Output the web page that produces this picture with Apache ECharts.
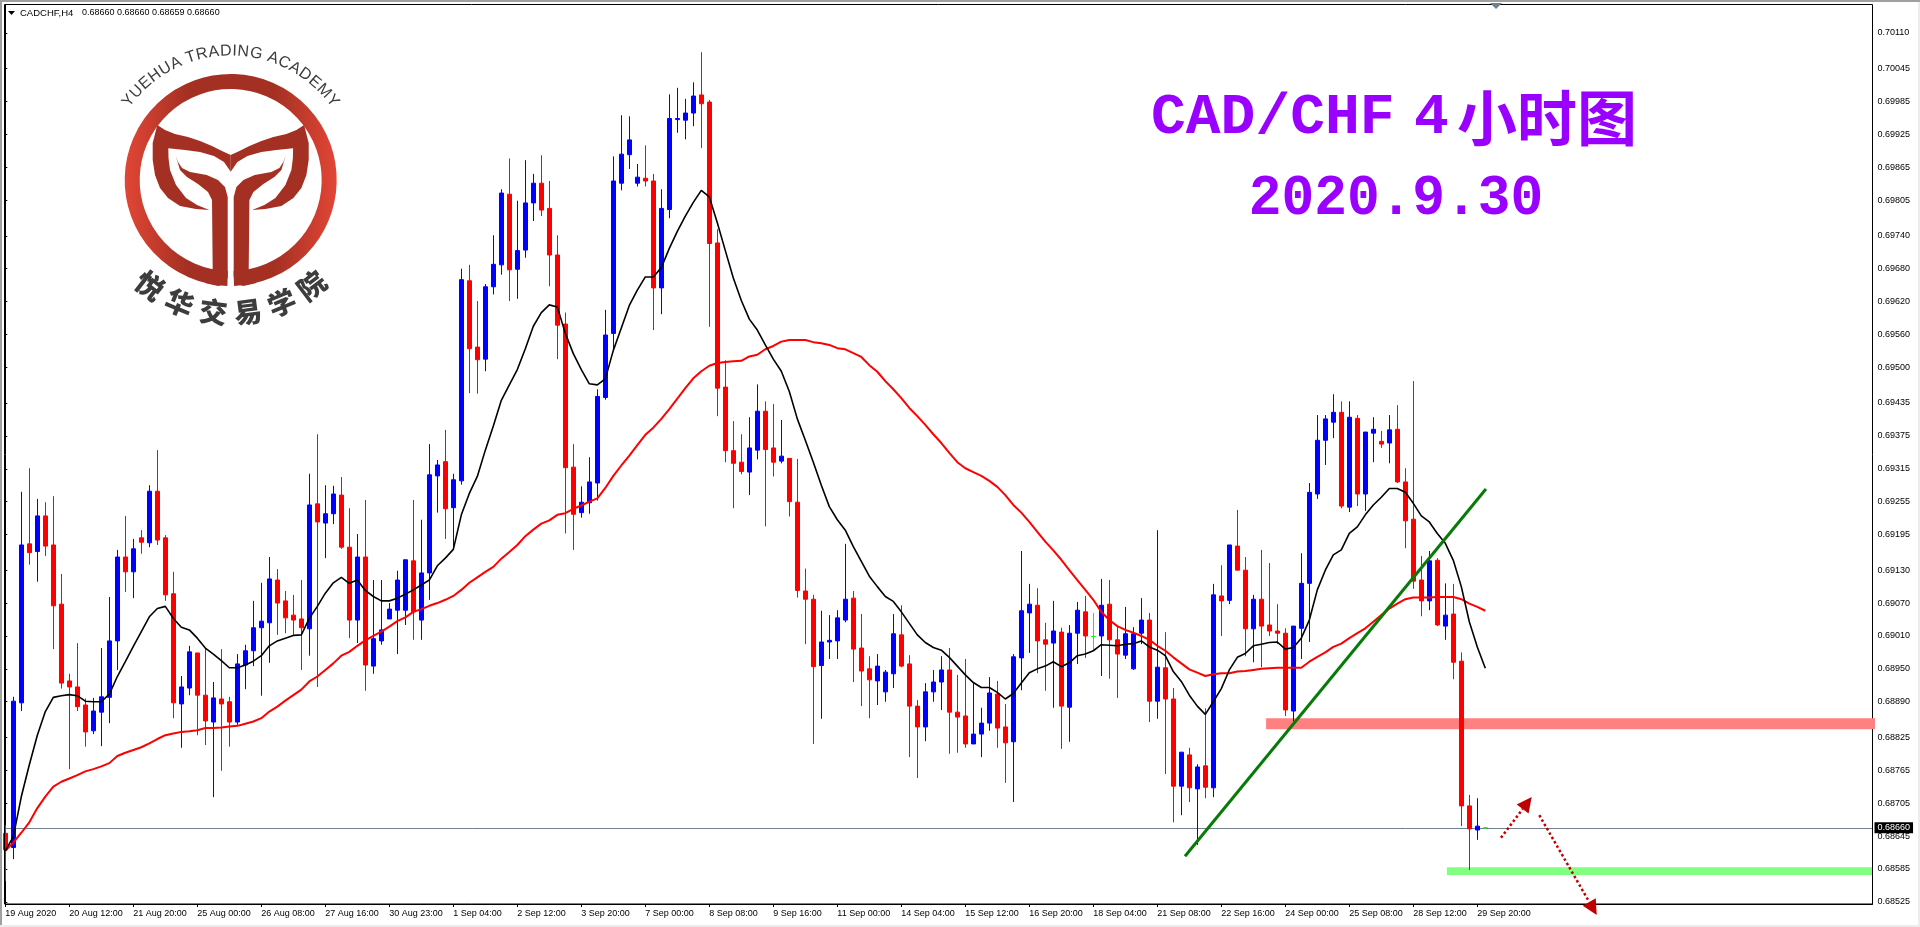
<!DOCTYPE html>
<html><head><meta charset="utf-8">
<style>html,body{margin:0;padding:0;background:#fff;overflow:hidden}#c{width:1920px;height:927px}</style>
<script src="https://cdn.jsdelivr.net/npm/echarts@6/dist/echarts.min.js"></script>
</head><body><div id="c"></div>
<script>
const tickLabels=['19 Aug 2020','20 Aug 12:00','21 Aug 20:00','25 Aug 00:00','26 Aug 08:00','27 Aug 16:00','30 Aug 23:00','1 Sep 04:00','2 Sep 12:00','3 Sep 20:00','7 Sep 00:00','8 Sep 08:00','9 Sep 16:00','11 Sep 00:00','14 Sep 04:00','15 Sep 12:00','16 Sep 20:00','18 Sep 04:00','21 Sep 08:00','22 Sep 16:00','24 Sep 00:00','25 Sep 08:00','28 Sep 12:00','29 Sep 20:00'];
const priceTicks=[0.70110,0.70045,0.69985,0.69925,0.69865,0.69805,0.69740,0.69680,0.69620,0.69560,0.69500,0.69435,0.69375,0.69315,0.69255,0.69195,0.69130,0.69070,0.69010,0.68950,0.68890,0.68825,0.68765,0.68705,0.68645,0.68585,0.68525];
const opens=[.68650,.68624,.68888,.69178,.69164,.69229,.69176,.69068,.68928,.68917,.68884,.68837,.68871,.68898,.69001,.69154,.69127,.69189,.69180,.69274,.69189,.69087,.68886,.68915,.68979,.68902,.68853,.68895,.68890,.68853,.68957,.68983,.69025,.69034,.69112,.69074,.69048,.69041,.69023,.69251,.69216,.69233,.69267,.69172,.69039,.69154,.68955,.69001,.69041,.69057,.69057,.69147,.69039,.69125,.69302,.69328,.69244,.69293,.69658,.69537,.69515,.69647,.69687,.69816,.69679,.69714,.69800,.69836,.69790,.69705,.69579,.69318,.69235,.69253,.69289,.69445,.69562,.69836,.69888,.69836,.69845,.69840,.69645,.69788,.69952,.69951,.69964,.69997,.69984,.69727,.69464,.69348,.69327,.69309,.69349,.69420,.69353,.69329,.69334,.69254,.69092,.69077,.68956,.68999,.69001,.69039,.69079,.68988,.68950,.68928,.68908,.68941,.69012,.68959,.68882,.68844,.68908,.68926,.68948,.68871,.68864,.68813,.68831,.68851,.68904,.68844,.68817,.68970,.69052,.69066,.69003,.68997,.69017,.68880,.69015,.69054,.69009,.69010,.69068,.69003,.68975,.68950,.69015,.69039,.68891,.68952,.68895,.68736,.68793,.68731,.68773,.68733,.69083,.69075,.69174,.69130,.69023,.69077,.69030,.69019,.69015,.68873,.69024,.69106,.69269,.69367,.69400,.69418,.69245,.69407,.69269,.69380,.69365,.69362,.69387,.69291,.69223,.69112,.69074,.69148,.69028,.69050,.68964,.68700,.68656,.68660];
const closes=[.68620,.68891,.69176,.69162,.69229,.69174,.69065,.68924,.68917,.68881,.68835,.68873,.68899,.69001,.69154,.69127,.69169,.69181,.69274,.69185,.69085,.68888,.68917,.68981,.68902,.68855,.68897,.68886,.68853,.68959,.68983,.69025,.69037,.69114,.69070,.69043,.69039,.69025,.69249,.69218,.69233,.69269,.69172,.69039,.69154,.68957,.69005,.69021,.69059,.69112,.69149,.69054,.69125,.69304,.69322,.69242,.69295,.69660,.69534,.69514,.69647,.69688,.69818,.69678,.69713,.69800,.69836,.69787,.69705,.69577,.69317,.69232,.69254,.69291,.69447,.69559,.69840,.69889,.69915,.69847,.69840,.69645,.69790,.69954,.69954,.69964,.69995,.69981,.69726,.69462,.69348,.69325,.69310,.69353,.69420,.69350,.69327,.69338,.69255,.69093,.69077,.68954,.68999,.69002,.69043,.69077,.68986,.68946,.68930,.68955,.68944,.69014,.68955,.68882,.68844,.68908,.68926,.68948,.68871,.68862,.68813,.68831,.68851,.68906,.68842,.68815,.68972,.69056,.69068,.69001,.68995,.69019,.68882,.69015,.69057,.69010,.69009,.69066,.69003,.68977,.69014,.69014,.69039,.68891,.68953,.68895,.68736,.68798,.68733,.68771,.68734,.69085,.69074,.69176,.69130,.69023,.69077,.69028,.69019,.69015,.68875,.69028,.69106,.69272,.69367,.69406,.69418,.69247,.69409,.69269,.69382,.69387,.69360,.69386,.69291,.69220,.69110,.69074,.69147,.69030,.69048,.68962,.68700,.68658,.68663,.68660];
const lows=[.68563,.68603,.68873,.69140,.69109,.69156,.68986,.68914,.68767,.68873,.68808,.68831,.68809,.68851,.68948,.69090,.69079,.69160,.69172,.69176,.69074,.68860,.68806,.68902,.68829,.68811,.68716,.68764,.68808,.68848,.68913,.68955,.68901,.68961,.69012,.69015,.69012,.68948,.68974,.68917,.69152,.69214,.69169,.69006,.68997,.68910,.68941,.68994,.69041,.68977,.69030,.69003,.69003,.69076,.69235,.69187,.69169,.69286,.69453,.69452,.69493,.69633,.69669,.69621,.69625,.69700,.69767,.69776,.69648,.69515,.69197,.69167,.69226,.69233,.69257,.69441,.69531,.69823,.69862,.69830,.69830,.69568,.69597,.69772,.69928,.69916,.69940,.69900,.69574,.69411,.69327,.69243,.69305,.69267,.69332,.69210,.69301,.69325,.69228,.69080,.68995,.68813,.68859,.68968,.68968,.69035,.68926,.68882,.68860,.68884,.68890,.68915,.68953,.68789,.68751,.68818,.68890,.68875,.68795,.68797,.68806,.68813,.68789,.68837,.68806,.68742,.68707,.68911,.68979,.68942,.68910,.68879,.68804,.68817,.68959,.68970,.68983,.68937,.68932,.68897,.68968,.68948,.68995,.68853,.68859,.68758,.68670,.68683,.68707,.68629,.68714,.68716,.69010,.69068,.69130,.68973,.68962,.68953,.69010,.68995,.68864,.68854,.68968,.68999,.69260,.69322,.69371,.69243,.69236,.69247,.69238,.69327,.69353,.69325,.69289,.69170,.69096,.69046,.69057,.69028,.69003,.68931,.68663,.68583,.68638,.68659];
const highs=[.68665,.68899,.69273,.69316,.69260,.69254,.69265,.69123,.68941,.68997,.68896,.68897,.68988,.69081,.69167,.69229,.69187,.69203,.69285,.69349,.69194,.69127,.68937,.68992,.68979,.68988,.68926,.68986,.68899,.68977,.68994,.69074,.69107,.69154,.69132,.69092,.69085,.69112,.69306,.69378,.69285,.69284,.69300,.69243,.69196,.69258,.69112,.69112,.69070,.69129,.69149,.69258,.69222,.69360,.69331,.69386,.69306,.69680,.69687,.69621,.69652,.69741,.69825,.69881,.69804,.69878,.69853,.69887,.69840,.69741,.69600,.69360,.69283,.69336,.69460,.69605,.69885,.69960,.69958,.69871,.69905,.69853,.69825,.69998,.70010,.69990,.70020,.70075,.69988,.69752,.69513,.69402,.69378,.69409,.69469,.69438,.69433,.69404,.69334,.69333,.69133,.69085,.69056,.69048,.69057,.69178,.69092,.69050,.68973,.68977,.68948,.69050,.69066,.68975,.68893,.68924,.68948,.68973,.68988,.68939,.68968,.68926,.68879,.68935,.68928,.68886,.68977,.69165,.69105,.69097,.69034,.69074,.69025,.69030,.69072,.69083,.69052,.69114,.69112,.69028,.69063,.69026,.69079,.69052,.69203,.69017,.68915,.68798,.68806,.68776,.68878,.69105,.69139,.69176,.69240,.69154,.69085,.69167,.69143,.69068,.69024,.69028,.69161,.69289,.69413,.69413,.69451,.69438,.69438,.69413,.69382,.69409,.69384,.69413,.69431,.69316,.69475,.69156,.69165,.69152,.69106,.69105,.68980,.68720,.68714,.68660];
const maBlack=[.68618,.68644,.68717,.68775,.68829,.68872,.68898,.68901,.68903,.68901,.68891,.68890,.68890,.68904,.68936,.68963,.68991,.69018,.69045,.69060,.69064,.69042,.69026,.69021,.69006,.68988,.68977,.68965,.68952,.68952,.68957,.68964,.68974,.68992,.69001,.69006,.69011,.69012,.69042,.69064,.69088,.69107,.69117,.69106,.69112,.69093,.69082,.69074,.69074,.69079,.69086,.69094,.69103,.69112,.69138,.69152,.69168,.69231,.69270,.69301,.69349,.69393,.69440,.69468,.69496,.69534,.69575,.69600,.69614,.69610,.69562,.69525,.69496,.69470,.69468,.69479,.69531,.69572,.69613,.69641,.69665,.69665,.69682,.69717,.69748,.69776,.69801,.69823,.69811,.69764,.69713,.69663,.69622,.69588,.69568,.69541,.69515,.69493,.69456,.69406,.69367,.69327,.69285,.69246,.69222,.69203,.69173,.69146,.69119,.69100,.69082,.69073,.69054,.69033,.69012,.68998,.68989,.68984,.68971,.68955,.68939,.68925,.68916,.68916,.68907,.68895,.68905,.68924,.68943,.68950,.68955,.68963,.68954,.68961,.68974,.68977,.68983,.68994,.68993,.68992,.68995,.68996,.69001,.68990,.68984,.68974,.68945,.68927,.68902,.68882,.68867,.68890,.68914,.68948,.68971,.68978,.68992,.68995,.68998,.68999,.68986,.68989,.69006,.69039,.69094,.69130,.69158,.69167,.69197,.69209,.69231,.69249,.69263,.69279,.69279,.69272,.69252,.69229,.69218,.69197,.69179,.69148,.69100,.69036,.68990,.68951];
const maRed=[.68618,.68633,.68651,.68670,.68696,.68717,.68735,.68744,.68750,.68756,.68763,.68767,.68772,.68778,.68791,.68797,.68802,.68807,.68814,.68822,.68829,.68832,.68835,.68836,.68838,.68842,.68842,.68843,.68845,.68846,.68850,.68854,.68860,.68872,.68881,.68892,.68902,.68912,.68927,.68936,.68948,.68960,.68974,.68981,.68992,.69002,.69010,.69018,.69027,.69037,.69044,.69054,.69059,.69065,.69070,.69076,.69083,.69094,.69107,.69117,.69127,.69136,.69151,.69163,.69176,.69192,.69204,.69215,.69221,.69231,.69234,.69242,.69248,.69255,.69261,.69280,.69302,.69321,.69339,.69358,.69377,.69390,.69406,.69424,.69443,.69462,.69480,.69493,.69503,.69508,.69510,.69511,.69512,.69520,.69523,.69533,.69539,.69547,.69550,.69550,.69550,.69546,.69544,.69541,.69535,.69533,.69526,.69519,.69504,.69492,.69475,.69460,.69444,.69426,.69411,.69395,.69378,.69362,.69344,.69327,.69316,.69309,.69302,.69293,.69282,.69267,.69249,.69235,.69218,.69200,.69182,.69166,.69149,.69130,.69112,.69094,.69076,.69054,.69039,.69028,.69021,.69016,.69010,.69003,.68992,.68983,.68971,.68960,.68949,.68943,.68937,.68940,.68942,.68942,.68945,.68946,.68948,.68950,.68951,.68952,.68952,.68952,.68952,.68963,.68972,.68980,.68990,.68996,.69006,.69015,.69024,.69036,.69048,.69060,.69069,.69077,.69080,.69080,.69080,.69081,.69081,.69081,.69077,.69069,.69063,.69056];
const currentPrice=0.68660;
const pinkBand=[157.6,0.68860,0.68840];
const greenBand=[180.2,0.68588,0.68574];
const trendLine=[[147.46,0.68608],[185.08,0.69278]];
const arrowUp=[[186.96,0.68642],[190.8,0.68716]];
const arrowDown=[[191.75,0.68683],[198.93,0.68501]];

const sans='"Liberation Sans"';
const xMax=233.4;
const candle=opens.map((o,i)=>[i,o,closes[i],lows[i],highs[i]]);
const purple='#9a00ff';

// logo geometry
const cx=230.7,cy=180,logoRed='#a33022';
const tail=[[157.3,125],[165,130],[175,134],[188,137],[200,141],[212,146],[222,151],[230.7,155],[230.7,171.7],[224,162],[214,156],[200,152],[185,150],[168.3,148.3],[168.5,158],[170,170],[176,185],[186,198],[197,205],[209.3,210],[196,209],[180,206],[168,198],[160,188],[155,175],[152.7,160],[152.7,143]];
const stem=[[175.7,155.7],[178,162],[182,168],[190,172],[206.7,175],[218,180],[225,187],[227.7,197],[227.7,277],[225,284],[218,286],[205,283],[212.7,270],[212,200],[208,192],[198,184],[187,177],[180,170]];
const mirror=p=>p.map(q=>[2*cx-q[0],q[1]]);
const poly=p=>({type:'polygon',shape:{points:p},style:{fill:logoRed},z:1});
const titleFont='bold 58px "Liberation Mono"';
const gfx=[
 {type:'rect',shape:{x:0,y:0,width:1920,height:2},style:{fill:'#a0a0a0'},z:0},
 {type:'rect',shape:{x:0,y:0,width:2,height:927},style:{fill:'#a0a0a0'},z:0},
 {type:'rect',shape:{x:0,y:925,width:1920,height:2},style:{fill:'#ececec'},z:0},
 {type:'rect',shape:{x:1918,y:2,width:2,height:925},style:{fill:'#ececec'},z:0},
 {type:'rect',shape:{x:4.5,y:4.5,width:1868,height:899.5},style:{fill:'none',stroke:'#000',lineWidth:1},z:50},
 {type:'polygon',shape:{points:[[8,11],[15,11],[11.5,15]]},style:{fill:'#000'},z:60},
 {type:'polygon',shape:{points:[[1490,3],[1502,3],[1496,9]]},style:{fill:'#708090'},z:60},
 {type:'text',x:20,y:8,style:{text:'CADCHF,H4',font:'9.5px '+sans,fill:'#000'},z:60},
 {type:'text',x:82,y:8,style:{text:'0.68660 0.68660 0.68659 0.68660',font:'9px '+sans,fill:'#000'},z:60},
 {type:'text',x:1151,y:118,style:{text:'CAD/CHF',font:titleFont,fill:purple,align:'left',verticalAlign:'middle'},z:60},
 {type:'text',x:1414,y:118,style:{text:'4',font:titleFont,fill:purple,align:'left',verticalAlign:'middle'},z:60},
 {type:'text',x:1637,y:118,style:{text:'小时图',font:'bold 60px "Noto Sans CJK SC"',fill:purple,align:'right',verticalAlign:'middle'},z:60},
 {type:'text',x:1396,y:199,scaleX:0.94,style:{text:'2020.9.30',font:titleFont,fill:purple,align:'center',verticalAlign:'middle'},z:60},
 {type:'arc',shape:{cx:cx,cy:cy,r:98.5,startAngle:(90+1.8)*Math.PI/180,endAngle:(450-1.8)*Math.PI/180,clockwise:true},
  style:{fill:'none',lineWidth:15,stroke:{type:'linear',x:0,y:0,x2:1,y2:0,colorStops:[{offset:0,color:'#e24636'},{offset:.3,color:logoRed},{offset:.7,color:logoRed},{offset:1,color:'#e24636'}]}},z:1},
 poly(tail),poly(mirror(tail)),poly(stem),poly(mirror(stem))
];
// arc lettering
const meas=document.createElement('canvas').getContext('2d');
const topText='YUEHUA TRADING ACADEMY',topFont='16px '+sans;
meas.font=topFont;
const R=121,total=meas.measureText(topText).width*1.02;
let adv=-total/2;
for(const ch of topText){
  const w=meas.measureText(ch).width*1.02;
  const th=(adv+w/2)/R; adv+=w;
  if(ch===' ')continue;
  gfx.push({type:'text',x:cx+R*Math.sin(th),y:cy-R*Math.cos(th),rotation:-th,style:{text:ch,font:topFont,fill:'#3d3d3d',align:'center',verticalAlign:'bottom'},z:1});
}
const cjk=['悦','华','交','易','学','院'],cjkAng=[-37.5,-22.6,-7.5,7.5,22.6,37.5];
cjk.forEach((ch,k)=>{
  const a=cjkAng[k]*Math.PI/180,r=133;
  gfx.push({type:'text',x:cx+r*Math.sin(a),y:cy+r*Math.cos(a),rotation:a,style:{text:ch,font:'900 28px "Noto Sans CJK SC"',fill:'#3d3d3d',align:'center',verticalAlign:'middle'},z:1});
});

const tickIdx=tickLabels.map((_,k)=>k*8);
const chart=echarts.init(document.getElementById('c'),null,{renderer:'canvas'});
chart.setOption({
 animation:false,backgroundColor:'#fff',
 grid:{left:5.33,right:47.5,top:4.5,height:899.5,containLabel:false},
 xAxis:{type:'value',min:0,max:xMax,splitLine:{show:false},
  axisLine:{onZero:false,lineStyle:{color:'#000',width:1}},
  axisTick:{length:3,lineStyle:{color:'#000'},customValues:tickIdx},
  axisLabel:{customValues:tickIdx,formatter:v=>tickLabels[Math.round(v/8)]||'',align:'left',margin:5,color:'#000',fontFamily:sans,fontSize:9}},
 yAxis:{type:'value',position:'right',min:0.68521,max:0.70162,scale:true,splitLine:{show:false},
  axisLine:{show:true,lineStyle:{color:'#000',width:1}},
  axisTick:{show:true,length:2,lineStyle:{color:'#000'},customValues:priceTicks},
  axisLabel:{customValues:priceTicks,formatter:v=>v.toFixed(5),margin:5,color:'#000',fontFamily:sans,fontSize:9}},
 graphic:{elements:gfx},
 series:[
  {name:'levels',type:'line',data:[],z:1,silent:true,
   markArea:{silent:true,z:1,data:[
    [{coord:[pinkBand[0],pinkBand[1]],itemStyle:{color:'#ff8080'}},{coord:[xMax,pinkBand[2]]}],
    [{coord:[greenBand[0],greenBand[1]],itemStyle:{color:'#80ff80'}},{coord:[xMax,greenBand[2]]}]]},
   markLine:{silent:true,z:1,symbol:'none',animation:false,lineStyle:{color:'#708090',width:1,type:'solid'},
    label:{show:true,position:'end',distance:2,formatter:()=>currentPrice.toFixed(5),color:'#fff',backgroundColor:'#000',padding:[1,3,1,3],fontFamily:sans,fontSize:9},
    data:[[{coord:[0,currentPrice]},{coord:[xMax,currentPrice]}]]}},
  {name:'CADCHF',type:'candlestick',z:2,barWidth:4,data:candle,
   itemStyle:{color:'#0000ff',color0:'#ff0000',borderColor:'#0000ff',borderColor0:'#ff0000',borderColorDoji:'#00ff00',borderWidth:1}},
  {name:'MA red',type:'line',z:3,showSymbol:false,silent:true,data:maRed.map((v,i)=>[i,v]),lineStyle:{color:'#ff0000',width:2}},
  {name:'MA black',type:'line',z:4,showSymbol:false,silent:true,data:maBlack.map((v,i)=>[i,v]),lineStyle:{color:'#000',width:1.6}},
  {name:'drawings',type:'line',data:[],z:5,silent:true,
   markLine:{silent:true,z:6,animation:false,label:{show:false},data:[
    [{coord:trendLine[0],symbol:'none',lineStyle:{color:'#087a08',width:3,type:'solid'}},{coord:trendLine[1],symbol:'none'}]
   ]}}
 ]
});
// Hand-drawn arrows run past the plot edge, so they are placed through the chart's own scales.
function arrow(seg){
  const a=chart.convertToPixel({gridIndex:0},seg[0]),t=chart.convertToPixel({gridIndex:0},seg[1]);
  const dx=t[0]-a[0],dy=t[1]-a[1],n=Math.hypot(dx,dy),ux=dx/n,uy=dy/n,L=15,W=7.5;
  const bx=t[0]-ux*L,by=t[1]-uy*L;
  return [
   {type:'line',shape:{x1:a[0],y1:a[1],x2:bx,y2:by},style:{stroke:'#c00000',lineWidth:2.5,lineDash:[2.5,2.5]},z:70},
   {type:'polygon',shape:{points:[t,[bx-uy*W,by+ux*W],[bx+uy*W,by-ux*W]]},style:{fill:'#c00000'},z:70}
  ];
}
const bandEdge=chart.convertToPixel({gridIndex:0},[xMax,pinkBand[1]]),bandEdge2=chart.convertToPixel({gridIndex:0},[xMax,pinkBand[2]]);
chart.setOption({graphic:{elements:gfx.concat(arrow(arrowUp),arrow(arrowDown),[
 {type:'rect',shape:{x:bandEdge[0]-0.5,y:bandEdge[1],width:3,height:bandEdge2[1]-bandEdge[1]},style:{fill:'#ff8080'},z:70}
])}});
</script></body></html>
